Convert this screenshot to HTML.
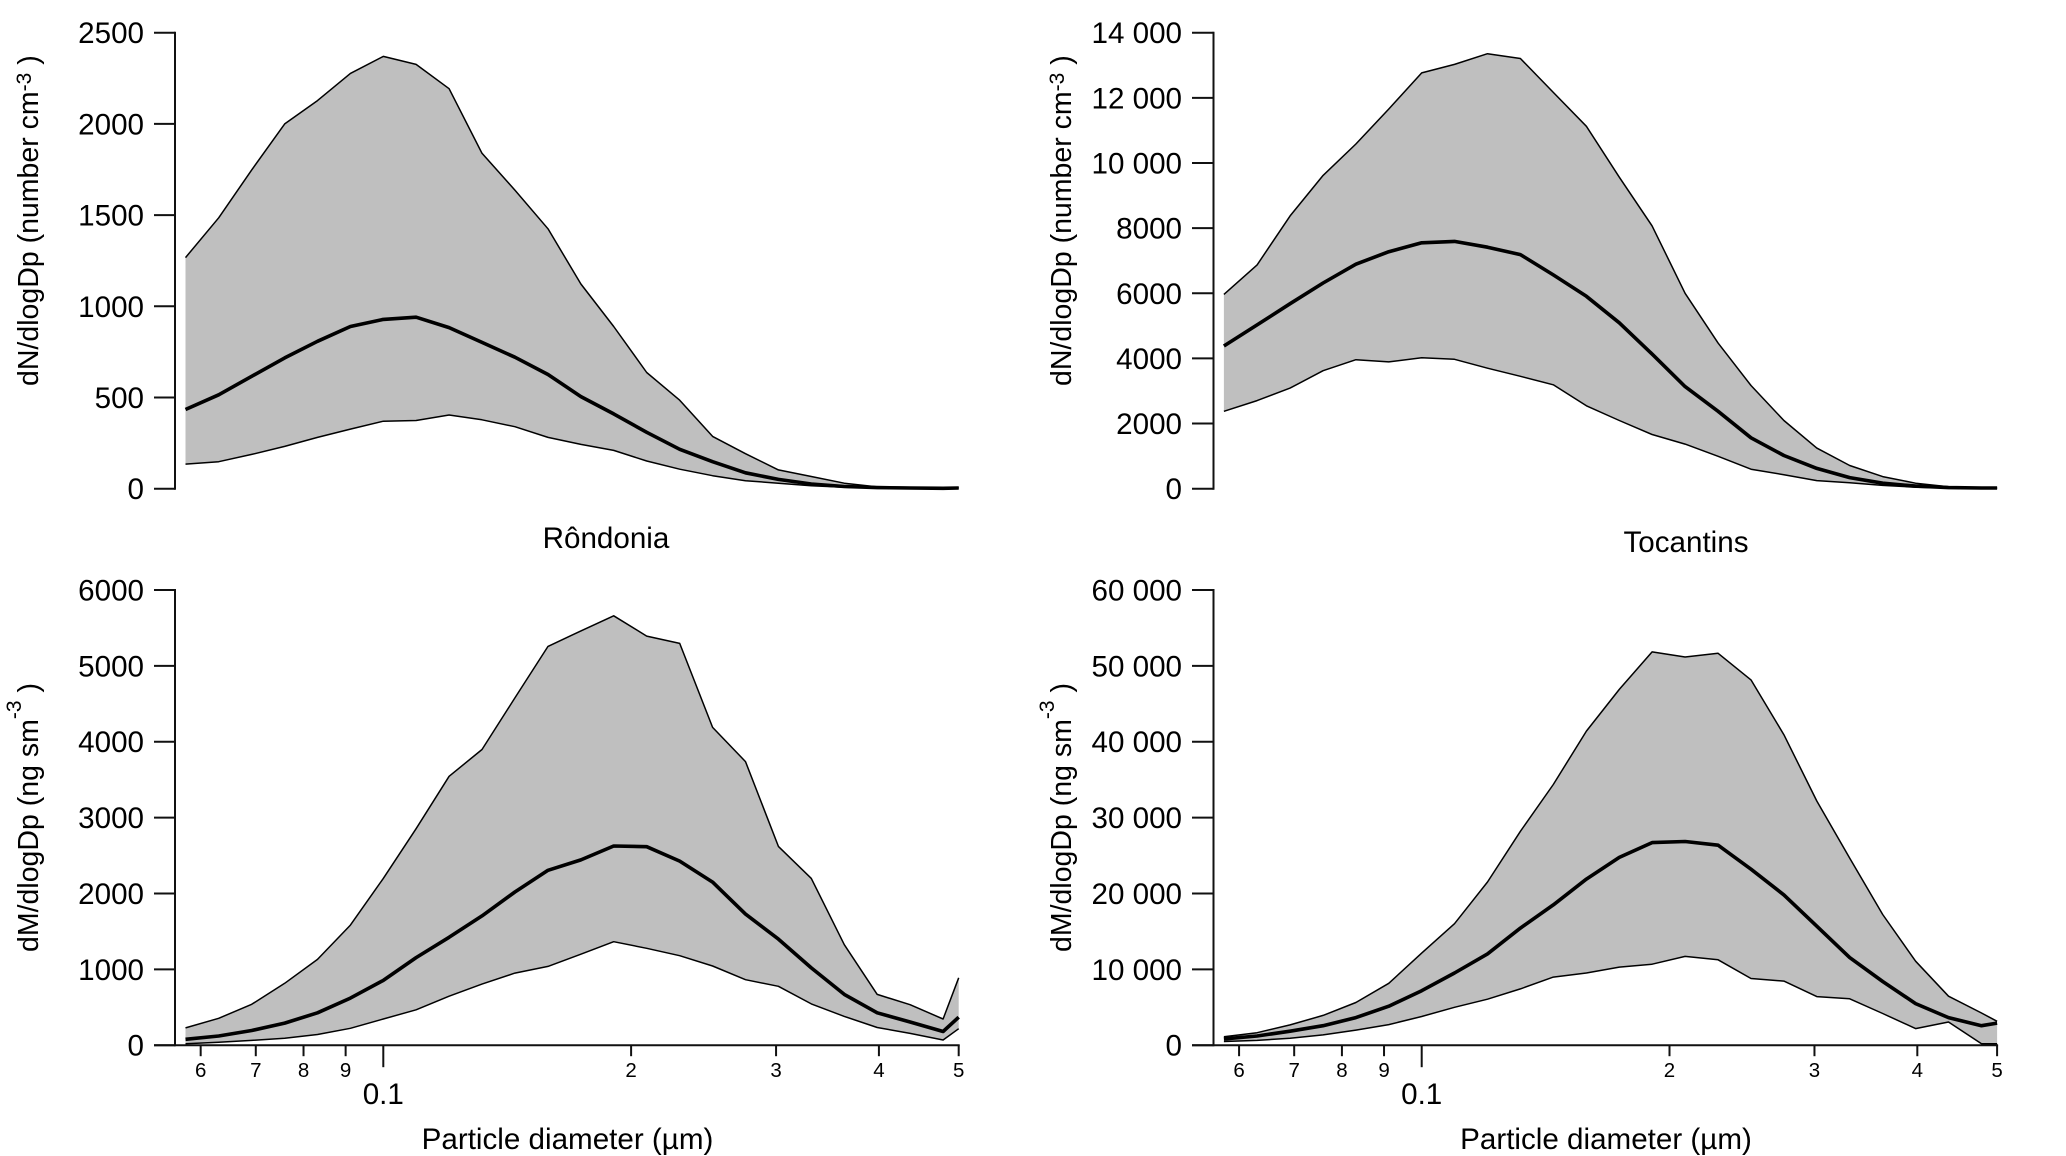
<!DOCTYPE html>
<html lang="en">
<head>
<meta charset="utf-8">
<title>Particle size distributions</title>
<style>
html,body{margin:0;padding:0;background:#fff;width:2066px;height:1156px;overflow:hidden}
svg{display:block}
text{font-family:"Liberation Sans",Arial,sans-serif;fill:#000}
.big{font-size:29.6px}
.ytitle{font-size:28.5px}
</style>
</head>
<body>
<svg id="figure" width="2066" height="1156" viewBox="0 0 2066 1156" xmlns="http://www.w3.org/2000/svg">
  <rect width="2066" height="1156" fill="#fff"/>
  <g id="p1"></g>
  <g id="p2"></g>
  <g id="p3"></g>
  <g id="p4"></g>

  <text class="ytitle" transform="translate(38,386) rotate(-90)">dN/dlogDp (number cm<tspan dy="-7" font-size="21">-3</tspan><tspan dy="7"> )</tspan></text>
  <text class="ytitle" transform="translate(1071,386) rotate(-90)">dN/dlogDp (number cm<tspan dy="-7" font-size="21">-3</tspan><tspan dy="7"> )</tspan></text>
  <text class="ytitle" transform="translate(38,952) rotate(-90)">dM/dlogDp (ng sm<tspan dy="-17" font-size="21">-3</tspan><tspan dy="17"> )</tspan></text>
  <text class="ytitle" transform="translate(1071,952) rotate(-90)">dM/dlogDp (ng sm<tspan dy="-17" font-size="21">-3</tspan><tspan dy="17"> )</tspan></text>

  <text class="big" x="606" y="548" text-anchor="middle">Rôndonia</text>
  <text class="big" x="1686" y="552" text-anchor="middle">Tocantins</text>
  <text class="big" x="567.5" y="1149" text-anchor="middle">Particle diameter (µm)</text>
  <text class="big" x="1606" y="1149" text-anchor="middle">Particle diameter (µm)</text>
</svg>
<script>
// Shared x data: particle diameter (µm)
const diameters = [0.0575,0.0631,0.0692,0.0759,0.0832,0.0912,0.1,0.1096,0.1202,0.1318,0.1445,0.1585,0.1738,0.1905,0.2089,0.2291,0.2512,0.2754,0.302,0.3311,0.3631,0.3981,0.4365,0.4786,0.5];
const xMinorTicks = [0.06,0.07,0.08,0.09,0.2,0.3,0.4,0.5];
const xMinorLabels = ["6","7","8","9","2","3","4","5"];
const xMajorTick = 0.1;
const xMajorLabel = "0.1";

// Rôndonia number distribution
const ronNumTicks = [0,500,1000,1500,2000,2500];
const ronNumLabels = ["0","500","1000","1500","2000","2500"];
const ronNumUpper = [1267,1485,1748,2000,2128,2277,2370,2326,2193,1839,1637,1425,1122,889,637,485,287,192,103,67,30,10,8,6,8];
const ronNumMedian = [434,515,616,717,808,889,928,940,883,802,721,626,505,410,309,216,148,87,51,26,12,6,4,2,4];
const ronNumLower = [135,148,188,232,281,327,370,374,404,378,340,281,243,210,152,107,71,44,30,16,8,4,2,2,2];

// Tocantins number distribution
const tocNumTicks = [0,2000,4000,6000,8000,10000,12000,14000];
const tocNumLabels = ["0","2000","4000","6000","8000","10 000","12 000","14 000"];
const tocNumUpper = [5964,6870,8375,9620,10582,11657,12766,13026,13354,13207,12166,11125,9563,8069,5998,4470,3169,2094,1245,713,373,170,57,34,23];
const tocNumMedian = [4380,5030,5680,6315,6892,7277,7549,7594,7413,7186,6564,5908,5093,4131,3135,2377,1562,1019,622,340,170,79,34,23,23];
const tocNumLower = [2377,2705,3090,3622,3961,3893,4018,3972,3701,3452,3191,2546,2094,1664,1369,996,600,430,249,181,102,45,23,11,11];

// Rôndonia mass distribution
const ronMassTicks = [0,1000,2000,3000,4000,5000,6000];
const ronMassLabels = ["0","1000","2000","3000","4000","5000","6000"];
const ronMassUpper = [228,354,539,816,1131,1583,2199,2854,3544,3898,4578,5257,5461,5660,5393,5296,4189,3738,2621,2199,1325,670,534,345,888];
const ronMassMedian = [78,121,194,291,427,621,854,1155,1422,1704,2019,2306,2442,2626,2617,2427,2150,1728,1398,1019,670,427,306,180,369];
const ronMassLower = [19,39,63,92,141,223,345,466,646,806,951,1039,1199,1364,1277,1180,1044,864,777,544,379,233,155,68,218];

// Tocantins mass distribution
const tocMassTicks = [0,10000,20000,30000,40000,50000,60000];
const tocMassLabels = ["0","10 000","20 000","30 000","40 000","50 000","60 000"];
const tocMassUpper = [1117,1650,2670,3932,5631,8155,12136,16019,21505,28200,34369,41408,46893,51845,51165,51650,48155,40922,32184,24660,17233,11068,6456,4250,3155];
const tocMassMedian = [825,1214,1845,2573,3641,5146,7184,9515,12039,15437,18495,21893,24757,26699,26845,26359,23204,19806,15680,11553,8398,5485,3641,2573,2913];
const tocMassLower = [485,631,922,1359,1990,2718,3786,5000,6068,7427,8981,9515,10291,10680,11699,11262,8786,8447,6408,6117,4175,2184,3058,194,194];

const NS = 'http://www.w3.org/2000/svg';

function el(parent, tag, attrs, txt) {
  const e = document.createElementNS(NS, tag);
  for (const k in attrs) e.setAttribute(k, attrs[k]);
  if (txt !== undefined) e.textContent = txt;
  parent.appendChild(e);
  return e;
}

function drawPanel(id, slug, g, ticks, labels, upper, median, lower) {
  const root = document.getElementById(id);
  const yMax = ticks[ticks.length - 1];
  const xScale = d => g.x01 + Math.log10(d / 0.1) * g.pxPerDecade;
  const yScale = v => g.y0 - (v / yMax) * (g.y0 - g.yTop);
  const pts = arr => arr.map((v, i) => xScale(diameters[i]).toFixed(1) + ',' + yScale(v).toFixed(1));

  const band = el(root, 'polygon', {
    points: pts(upper).concat(pts(lower).reverse()).join(' '),
    fill: '#bfbfbf', stroke: 'none'
  });
  
  

  const up = el(root, 'polyline', {
    points: pts(upper).join(' '), fill: 'none', stroke: '#000', 'stroke-width': 1.5, 'stroke-linejoin': 'round'
  });
  
  

  const lo = el(root, 'polyline', {
    points: pts(lower).join(' '), fill: 'none', stroke: '#000', 'stroke-width': 1.5, 'stroke-linejoin': 'round'
  });
  
  

  const med = el(root, 'polyline', {
    points: pts(median).join(' '), fill: 'none', stroke: '#000', 'stroke-width': 3.6, 'stroke-linejoin': 'round'
  });
  
  

  const yAxis = el(root, 'line', { x1: g.axisX, x2: g.axisX, y1: g.yTop - 1, y2: g.y0 + 1, stroke: '#111', 'stroke-width': 2 });
  
  

  ticks.forEach((t, i) => {
    const tick = el(root, 'line', { x1: g.tickX, x2: g.axisX, y1: yScale(t), y2: yScale(t), stroke: '#111', 'stroke-width': 2 });
    
    
    const lab = el(root, 'text', { x: g.labelX, y: yScale(t) + 10.5, 'text-anchor': 'end', 'font-size': 29.6 }, labels[i]);
    
    
  });

  if (g.hasXAxis) {
    const xAxis = el(root, 'line', { x1: g.tickX, x2: xScale(0.5) + 1, y1: g.y0, y2: g.y0, stroke: '#111', 'stroke-width': 2 });
    
    

    xMinorTicks.forEach((t, i) => {
      const tick = el(root, 'line', { x1: xScale(t), x2: xScale(t), y1: g.y0, y2: g.y0 + 11, stroke: '#111', 'stroke-width': 2 });
      
      
      const lab = el(root, 'text', { x: xScale(t), y: g.y0 + 32, 'text-anchor': 'middle', 'font-size': 20.5 }, xMinorLabels[i]);
      
      
    });

    const major = el(root, 'line', { x1: xScale(xMajorTick), x2: xScale(xMajorTick), y1: g.y0, y2: g.y0 + 22, stroke: '#111', 'stroke-width': 2 });
    
    
    const majorLab = el(root, 'text', { x: xScale(xMajorTick), y: g.y0 + 59, 'text-anchor': 'middle', 'font-size': 29.6 }, xMajorLabel);
    
    
  }
}

const leftTop = { axisX: 175, tickX: 154, labelX: 144, x01: 383.3, pxPerDecade: 823.2, yTop: 32.7, y0: 488.7, hasXAxis: false };
const rightTop = { axisX: 1213.5, tickX: 1192, labelX: 1182, x01: 1421.7, pxPerDecade: 823.2, yTop: 32.7, y0: 488.7, hasXAxis: false };
const leftBottom = { axisX: 175, tickX: 154, labelX: 144, x01: 383.3, pxPerDecade: 823.2, yTop: 590, y0: 1045.2, hasXAxis: true };
const rightBottom = { axisX: 1213.5, tickX: 1192, labelX: 1182, x01: 1421.7, pxPerDecade: 823.2, yTop: 590, y0: 1045.2, hasXAxis: true };

drawPanel('p1', 'rondonia-number', leftTop, ronNumTicks, ronNumLabels, ronNumUpper, ronNumMedian, ronNumLower);
drawPanel('p2', 'tocantins-number', rightTop, tocNumTicks, tocNumLabels, tocNumUpper, tocNumMedian, tocNumLower);
drawPanel('p3', 'rondonia-mass', leftBottom, ronMassTicks, ronMassLabels, ronMassUpper, ronMassMedian, ronMassLower);
drawPanel('p4', 'tocantins-mass', rightBottom, tocMassTicks, tocMassLabels, tocMassUpper, tocMassMedian, tocMassLower);
</script>
</body>
</html>
